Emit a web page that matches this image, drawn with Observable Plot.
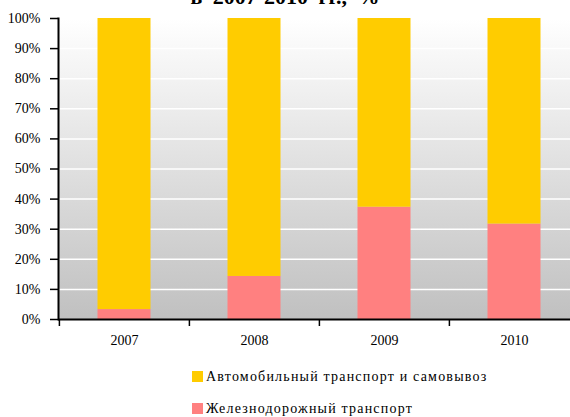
<!DOCTYPE html>
<html>
<head>
<meta charset="utf-8">
<script src="https://cdn.jsdelivr.net/npm/d3@7"></script>
<script src="https://cdn.jsdelivr.net/npm/@observablehq/plot@0.6"></script>
</head>
<body style="margin:0;padding:0;background:white;">
<div id="wrap" style="position:relative;width:570px;height:417px;overflow:hidden;font-family:'Liberation Serif',serif;">
  <div id="chart" style="position:absolute;left:0;top:0;"></div>
  <div id="title" style="position:absolute;left:0;width:570px;top:-14px;text-align:center;font-weight:bold;font-size:22px;line-height:22px;word-spacing:5px;font-family:'Liberation Serif',serif;">в 2007-2010 гг., %</div>
  <div id="legend"></div>
</div>
<script>
const years = ["2007", "2008", "2009", "2010"];
const rail = [3.3, 14.3, 37.3, 31.7];
const road = [96.7, 85.7, 62.7, 68.3];
const series = ["Автомобильный транспорт и самовывоз", "Железнодорожный транспорт"];
const colors = ["#ffcc00", "#ff8080"];
const yTicks = [0, 10, 20, 30, 40, 50, 60, 70, 80, 90, 100];
const gridTicks = [10, 20, 30, 40, 50, 60, 70, 80, 90];

const table = years.flatMap((y, i) => [
  {year: y, series: series[1], value: rail[i]},
  {year: y, series: series[0], value: road[i]}
]);

const svg = Plot.plot({
  width: 570,
  height: 360,
  marginTop: 18,
  marginBottom: 41,
  marginLeft: 58,
  marginRight: 0,
  style: {fontFamily: "Liberation Serif", fontSize: "14px", color: "black", background: "transparent", overflow: "hidden"},
  x: {domain: years, range: [58, 579], padding: 0, label: null},
  y: {domain: [0, 100], label: null},
  color: {domain: series, range: colors},
  marks: [
    Plot.frame({fill: "url(#bg)", stroke: "none"}),
    Plot.ruleY(gridTicks, {stroke: "white", strokeWidth: 1.5}),
    Plot.barY(table, {x: "year", y: "value", fill: "series", insetLeft: 38.5, insetRight: 38.5}),
    Plot.axisY({ticks: yTicks, tickFormat: d => d + "%", tickSize: 8, tickPadding: 10, strokeWidth: 1.5, fontSize: 14, fontFamily: "Liberation Serif", label: null}),
    Plot.frame({anchor: "left", stroke: "black", strokeWidth: 2}),
    Plot.ruleY([0], {stroke: "black", strokeWidth: 2}),
    Plot.axisX({tickSize: 0, tickPadding: 16, fontSize: 14, fontFamily: "Liberation Serif", label: null}),
    Plot.axisX({tickSize: 7, tickFormat: () => "", dx: -65.1, strokeWidth: 1.5, label: null})
  ]
});

const ns = "http://www.w3.org/2000/svg";
const defs = document.createElementNS(ns, "defs");
defs.innerHTML = '<linearGradient id="bg" x1="0" y1="0" x2="0" y2="1"><stop offset="0" stop-color="#ffffff"/><stop offset="1" stop-color="#c0c0c0"/></linearGradient>';
svg.insertBefore(defs, svg.firstChild);
document.getElementById("chart").appendChild(svg);

const legend = document.getElementById("legend");
const legTops = [370, 402];
series.forEach((s, i) => {
  const d = document.createElement("div");
  d.style.cssText = `position:absolute;left:192px;top:${legTops[i]}px;font-size:14px;letter-spacing:1.2px;line-height:14px;white-space:nowrap;font-family:'Liberation Serif',serif;`;
  d.innerHTML = `<span style="display:inline-block;width:11px;height:11px;margin-right:3px;vertical-align:-1px;background:${colors[i]}"></span>${s}`;
  legend.appendChild(d);
});
</script>
</body>
</html>
